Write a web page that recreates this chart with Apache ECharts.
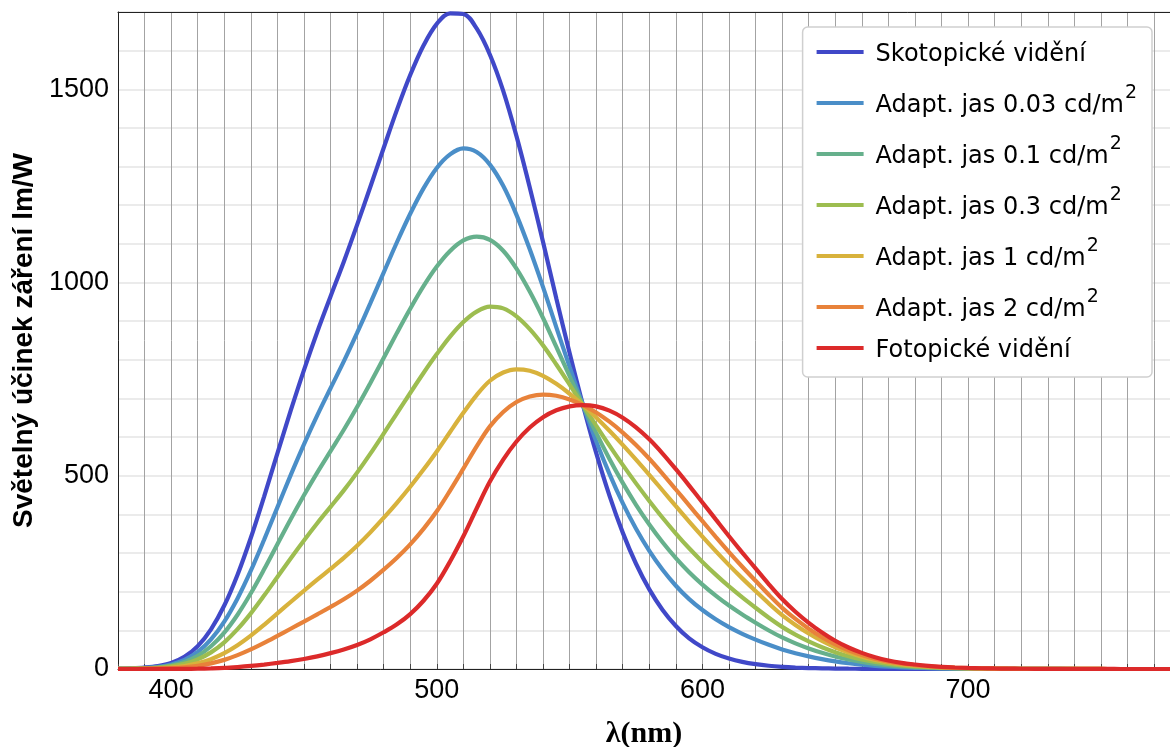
<!DOCTYPE html>
<html lang="cs">
<head>
<meta charset="UTF-8">
<title>Světelný účinek záření</title>
<script src="https://cdn.jsdelivr.net/npm/echarts@6/dist/echarts.min.js"></script>
<style>
  html, body { margin: 0; padding: 0; background: #fff; }
  #chart { width: 1170px; height: 747px; }
</style>
</head>
<body>
<div id="chart"></div>
<script>
// vlnové délky (nm)
var wavelengths = [380, 385, 390, 395, 400, 405, 410, 415, 420, 425,
                   430, 435, 440, 445, 450, 455, 460, 465, 470, 475,
                   480, 485, 490, 495, 500, 505, 510, 515, 520, 525,
                   530, 535, 540, 545, 550, 555, 560, 565, 570, 575,
                   580, 585, 590, 595, 600, 605, 610, 615, 620, 625,
                   630, 635, 640, 645, 650, 655, 660, 665, 670, 675,
                   680, 685, 690, 695, 700, 705, 710, 715, 720, 725,
                   730, 735, 740, 745, 750, 755, 760, 765, 770, 775,
                   780];

// světelný účinek (lm/W)
var scotopic = [1.0, 1.9, 3.8, 7.7, 15.8, 31.5, 59.2, 102.7, 164.2, 244.1,
                339.7, 446.3, 557.8, 668.3, 773.5, 872.1, 963.9, 1054.0, 1149.2, 1247.8,
                1348.1, 1446.7, 1536.8, 1613.3, 1669.4, 1696.6, 1694.9, 1657.5, 1589.5, 1496.0,
                1378.7, 1246.1, 1105.0, 958.8, 817.7, 683.4, 559.0, 448.6, 352.9, 272.3,
                206.0, 152.8, 111.4, 79.3, 56.4, 39.3, 27.1, 18.5, 12.5, 8.4,
                5.7, 3.8, 2.5, 1.7, 1.2, 0.8, 0.5, 0.4, 0.3, 0.2,
                0.1, 0.1, 0.1, 0, 0, 0, 0, 0, 0, 0,
                0, 0, 0, 0, 0, 0, 0, 0, 0, 0,
                0];
var adapt003 = [0.8, 1.4, 2.8, 5.8, 11.8, 23.5, 44.2, 76.6, 122.7, 182.6,
                254.3, 334.4, 418.3, 501.6, 581.2, 656.1, 726.4, 795.8, 869.5, 946.5,
                1025.6, 1104.2, 1177.9, 1243.6, 1296.5, 1331.5, 1347.0, 1337.7, 1305.1, 1250.2,
                1175.2, 1086.0, 988.0, 884.1, 781.8, 683.0, 589.6, 504.9, 429.1, 362.8,
                305.6, 256.7, 215.5, 180.8, 152.6, 128.6, 108.3, 91.1, 76.1, 62.6,
                50.7, 40.9, 32.6, 25.5, 19.6, 14.9, 11.1, 8.1, 5.8, 4.2,
                3.1, 2.2, 1.5, 1.0, 0.7, 0.5, 0.4, 0.3, 0.2, 0.1,
                0.1, 0.1, 0, 0, 0, 0, 0, 0, 0, 0,
                0];
var adapt01 = [0.6, 1.1, 2.2, 4.4, 9.1, 18.0, 33.9, 58.8, 94.2, 140.5,
               195.9, 257.8, 322.8, 387.4, 449.4, 508.3, 563.8, 619.0, 678.0, 740.2,
               804.8, 869.7, 932.2, 990.5, 1041.3, 1081.7, 1109.0, 1118.9, 1110.5, 1082.2,
               1036.1, 976.6, 908.2, 833.2, 757.6, 683.0, 611.0, 543.6, 481.5, 424.9,
               374.0, 328.0, 287.0, 250.5, 218.5, 189.9, 164.1, 141.0, 119.8, 99.7,
               81.6, 66.3, 53.2, 41.9, 32.3, 24.6, 18.3, 13.4, 9.6, 7.0,
               5.1, 3.6, 2.5, 1.7, 1.2, 0.9, 0.6, 0.4, 0.3, 0.2,
               0.2, 0.1, 0.1, 0, 0, 0, 0, 0, 0, 0,
               0];
var adapt03 = [0.4, 0.8, 1.6, 3.3, 6.6, 13.2, 24.8, 43.0, 69.0, 103.1,
               144.0, 189.9, 238.1, 286.2, 332.6, 377.1, 419.6, 462.1, 508.1, 557.2,
               609.0, 661.7, 714.2, 765.9, 814.8, 860.0, 897.8, 924.8, 937.9, 933.1,
               912.6, 879.5, 837.4, 788.0, 736.0, 683.0, 629.9, 578.0, 528.1, 480.3,
               434.8, 391.3, 350.5, 312.3, 277.1, 244.3, 213.6, 185.2, 158.5, 132.7,
               109.0, 88.9, 71.5, 56.3, 43.5, 33.2, 24.8, 18.1, 13.0, 9.4,
               6.9, 4.8, 3.3, 2.3, 1.7, 1.2, 0.8, 0.6, 0.4, 0.3,
               0.2, 0.1, 0.1, 0.1, 0.1, 0, 0, 0, 0, 0,
               0];
var adapt1 = [0.3, 0.5, 1.0, 1.9, 3.9, 7.8, 14.6, 25.4, 40.9, 61.5,
              86.3, 114.2, 143.8, 173.4, 202.5, 231.1, 259.0, 287.5, 318.9, 353.5,
              391.0, 430.1, 471.5, 516.0, 562.9, 613.3, 662.8, 708.8, 745.8, 767.1,
              775.3, 771.6, 758.6, 737.8, 712.2, 683.0, 651.0, 616.4, 580.0, 541.8,
              502.5, 461.9, 421.2, 381.2, 342.4, 304.9, 268.8, 234.5, 201.7, 169.4,
              139.5, 114.1, 91.9, 72.5, 56.1, 42.7, 31.9, 23.3, 16.8, 12.1,
              8.9, 6.2, 4.3, 3.0, 2.1, 1.5, 1.1, 0.8, 0.6, 0.4,
              0.3, 0.2, 0.1, 0.1, 0.1, 0, 0, 0, 0, 0,
              0];
var adapt2 = [0.2, 0.3, 0.6, 1.1, 2.3, 4.5, 8.4, 14.6, 23.6, 35.9,
              50.8, 67.7, 85.8, 104.2, 122.6, 141.4, 160.4, 180.3, 202.8, 228.4,
              257.0, 287.8, 322.5, 362.5, 408.0, 461.6, 518.3, 576.0, 627.8, 665.1,
              690.9, 705.2, 710.2, 706.9, 697.4, 683.0, 663.9, 639.9, 611.7, 579.5,
              544.0, 505.1, 464.5, 423.4, 382.5, 342.1, 302.6, 264.7, 228.2, 192.0,
              158.3, 129.5, 104.4, 82.4, 63.8, 48.6, 36.3, 26.6, 19.1, 13.8,
              10.1, 7.1, 4.9, 3.4, 2.4, 1.7, 1.2, 0.9, 0.6, 0.4,
              0.3, 0.2, 0.2, 0.1, 0.1, 0, 0, 0, 0, 0,
              0];
var photopic = [0.0, 0.0, 0.1, 0.1, 0.3, 0.4, 0.8, 1.5, 2.7, 5.0,
                7.9, 11.5, 15.7, 20.4, 26.0, 32.8, 41.0, 50.5, 62.1, 76.9,
                95.0, 115.6, 142.1, 176.6, 220.6, 278.2, 343.5, 415.4, 484.9, 541.8,
                588.7, 624.8, 651.6, 669.5, 679.6, 683.0, 679.6, 668.4, 650.2, 625.2,
                594.2, 557.5, 517.0, 474.6, 431.0, 387.1, 343.5, 301.3, 260.2, 219.2,
                181.0, 148.2, 119.5, 94.4, 73.1, 55.7, 41.7, 30.4, 21.9, 15.8,
                11.6, 8.1, 5.6, 3.9, 2.8, 2.0, 1.4, 1.0, 0.7, 0.5,
                0.4, 0.2, 0.2, 0.1, 0.1, 0.1, 0, 0, 0, 0,
                0];

var seriesNames = ['Skotopické vidění', 'Adapt. jas 0.03 cd/m²', 'Adapt. jas 0.1 cd/m²',
                   'Adapt. jas 0.3 cd/m²', 'Adapt. jas 1 cd/m²', 'Adapt. jas 2 cd/m²',
                   'Fotopické vidění'];
var seriesValues = [scotopic, adapt003, adapt01, adapt03, adapt1, adapt2, photopic];
var colors = ['#4048c8', '#4a8ec8', '#66b08c', '#9dbd50', '#d8b23c', '#e8823a', '#dc2a2a'];

var myChart = echarts.init(document.getElementById('chart'));

var series = [];
for (var i = 0; i < seriesNames.length; i++) {
    var pts = [];
    for (var j = 0; j < wavelengths.length; j++) {
        pts.push([wavelengths[j], seriesValues[i][j]]);
    }
    series.push({
        name: seriesNames[i],
        type: 'line',
        data: pts,
        smooth: 0.35,
        showSymbol: false,
        lineStyle: { color: colors[i], width: 4.2 },
        itemStyle: { color: colors[i] }
    });
}

var option = {
    animation: false,
    grid: { left: 118, top: 12, right: 0, bottom: 78, outerBoundsMode: 'none' },
    legend: {
        orient: 'vertical',
        right: 18,
        top: 27,
        z: 20,
        padding: [16, 15, 14, 14],
        itemGap: 17,
        itemWidth: 47,
        itemHeight: 4,
        icon: 'rect',
        selectedMode: false,
        backgroundColor: '#ffffff',
        borderColor: '#cfcfcf',
        borderWidth: 1.5,
        borderRadius: 5,
        data: seriesNames,
        formatter: function (name) {
            if (name.indexOf('²') > -1) {
                return '{t|' + name.replace('²', '') + '}{s|2}';
            }
            return '{t|' + name + '}';
        },
        textStyle: {
            color: '#000',
            fontFamily: 'DejaVu Sans',
            fontSize: 24,
            rich: {
                t: { fontFamily: 'DejaVu Sans', fontSize: 24, lineHeight: 30, color: '#000',
                     verticalAlign: 'bottom', padding: [0, 0, 0, 7] },
                s: { fontFamily: 'DejaVu Sans', fontSize: 19, lineHeight: 19, color: '#000',
                     verticalAlign: 'bottom', padding: [0, 0, 15, 1] }
            }
        }
    },
    xAxis: [{
        type: 'value',
        min: 380,
        max: 776,
        interval: 10,
        name: 'λ(nm)',
        nameLocation: 'middle',
        nameGap: 50,
        nameTextStyle: { fontFamily: 'Liberation Serif', fontWeight: 'bold', fontSize: 30, color: '#000' },
        axisLine: { show: true, lineStyle: { color: '#222', width: 1 } },
        axisTick: { show: true, inside: true, length: 5, lineStyle: { color: '#444' } },
        axisLabel: {
            fontFamily: 'Liberation Sans', fontSize: 27, color: '#000', margin: 8,
            showMinLabel: true, showMaxLabel: true,
            formatter: function (v) { return v % 100 === 0 ? String(v) : ''; }
        },
        splitLine: { show: true, lineStyle: { color: '#a3a3a3', width: 1 } }
    }, {
        type: 'value',
        position: 'top',
        min: 380,
        max: 776,
        interval: 10,
        axisLine: { show: true, lineStyle: { color: '#222', width: 1 } },
        axisTick: { show: false },
        axisLabel: { show: false },
        splitLine: { show: false }
    }],
    yAxis: {
        type: 'value',
        min: 0,
        max: 1700,
        interval: 100,
        name: 'Světelný účinek záření lm/W',
        nameLocation: 'middle',
        nameGap: 76,
        nameTextStyle: { fontFamily: 'Liberation Sans', fontWeight: 'bold', fontSize: 28, color: '#000' },
        axisLine: { show: true, lineStyle: { color: '#222', width: 1 } },
        axisTick: { show: false },
        axisLabel: {
            fontFamily: 'Liberation Sans', fontSize: 27, color: '#000', margin: 9,
            formatter: function (v) { return (v % 500 === 0) ? String(v) : ''; }
        },
        splitLine: { show: true, lineStyle: { color: '#e4e4e4', width: 1.5 } }
    },
    series: series
};

myChart.setOption(option);
</script>
</body>
</html>
